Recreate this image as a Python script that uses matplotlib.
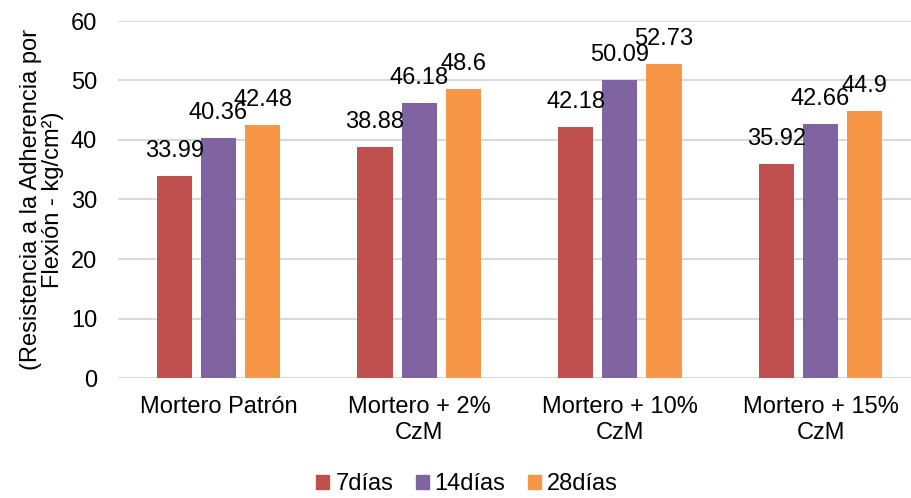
import numpy as np
import matplotlib.pyplot as plt
from matplotlib.patches import Patch

plt.rcParams['font.family'] = ['Liberation Sans', 'DejaVu Sans']

categories = ["Mortero Patrón", "Mortero + 2%\nCzM", "Mortero + 10%\nCzM", "Mortero + 15%\nCzM"]
series_names = ["7días", "14días", "28días"]
dias7 = [33.99, 38.88, 42.18, 35.92]
dias14 = [40.36, 46.18, 50.09, 42.66]
dias28 = [42.48, 48.6, 52.73, 44.9]
labels7 = ["33.99", "38.88", "42.18", "35.92"]
labels14 = ["40.36", "46.18", "50.09", "42.66"]
labels28 = ["42.48", "48.6", "52.73", "44.9"]

colors = ["#C0504D", "#8064A2", "#F79646"]
fs = 17

fig = plt.figure(figsize=(9.11, 4.98), dpi=100)
ax = fig.add_axes([118 / 911, 1 - 378 / 498, (921 - 118) / 911, (378 - 21) / 498])

x = np.arange(len(categories))
width = 0.175
step = 0.22
all_series = [(dias7, labels7), (dias14, labels14), (dias28, labels28)]
for i, (vals, labs) in enumerate(all_series):
    pos = x + (i - 1) * step
    ax.bar(pos, vals, width, color=colors[i], zorder=2)
    for p, v, t in zip(pos, vals, labs):
        ax.annotate(t, (p, v), xytext=(0, 10), textcoords="offset points",
                    ha="center", va="bottom", fontsize=fs, color="#000000")

ax.set_ylim(0, 60)
ax.set_xlim(-0.5, 3.5)
ax.set_yticks(range(0, 61, 10))
ax.yaxis.grid(True, color="#D9D9D9", linewidth=1.5, zorder=0)
ax.set_axisbelow(True)
for s in ax.spines.values():
    s.set_visible(False)
ax.tick_params(axis="both", length=0, labelsize=fs, colors="#000000")
ax.tick_params(axis="y", pad=15)
ax.tick_params(axis="x", pad=13)
ax.set_xticks(x)
ax.set_xticklabels(categories, linespacing=1.25)

fig.text(42 / 911, 1 - 200 / 498, "(Resistencia a la Adherencia por\nFlexión - kg/cm²)",
         rotation=90, ha="center", va="center", fontsize=fs, linespacing=1.05)

handles = [Patch(color=c) for c in colors]
fig.legend(handles, series_names, loc="center", bbox_to_anchor=(467 / 911, 1 - 484 / 498),
           ncol=3, frameon=False, fontsize=fs, handlelength=0.55, handleheight=0.55,
           handletextpad=0.25, columnspacing=0.95)

fig.savefig("out.png", dpi=100)
